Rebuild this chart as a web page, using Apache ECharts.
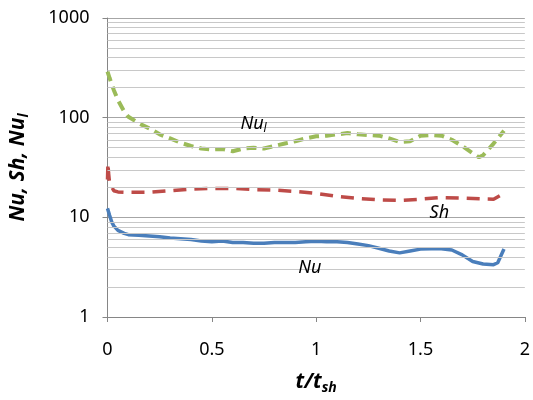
<!DOCTYPE html>
<html>
<head>
<meta charset="utf-8">
<script src="https://cdn.jsdelivr.net/npm/echarts@6/dist/echarts.min.js"></script>
<style>
  html, body { margin: 0; padding: 0; background: #fff; }
  #chart { width: 533px; height: 400px; }
</style>
</head>
<body>
<div id="chart"></div>
<script>
// Nu (blue, solid)
const nuData = [
  [0, 12.3], [0.01, 10.5], [0.02, 9], [0.03, 8.2], [0.05, 7.4], [0.08, 6.9], [0.1, 6.7],
  [0.15, 6.6], [0.2, 6.5], [0.25, 6.4], [0.3, 6.2], [0.35, 6.1], [0.4, 6.0], [0.45, 5.8],
  [0.5, 5.7], [0.55, 5.8], [0.6, 5.6], [0.65, 5.6], [0.7, 5.5], [0.75, 5.5], [0.8, 5.6],
  [0.85, 5.6], [0.9, 5.6], [0.95, 5.7], [1.0, 5.75], [1.05, 5.7], [1.1, 5.7], [1.15, 5.6],
  [1.2, 5.4], [1.25, 5.2], [1.3, 4.9], [1.35, 4.6], [1.4, 4.4], [1.45, 4.6], [1.5, 4.8],
  [1.55, 4.85], [1.6, 4.85], [1.65, 4.7], [1.7, 4.2], [1.75, 3.6], [1.8, 3.4], [1.85, 3.35],
  [1.87, 3.5], [1.9, 4.8]
];
// Sh (red, dashed)
const shData = [
  [0, 24], [0.002, 35], [0.005, 28], [0.01, 22], [0.03, 18.5], [0.05, 18], [0.1, 17.8],
  [0.2, 17.8], [0.3, 18.5], [0.4, 19.2], [0.5, 19.5], [0.6, 19.5], [0.7, 19], [0.8, 18.8],
  [0.9, 18.2], [1.0, 17.4], [1.1, 16.2], [1.2, 15.5], [1.3, 15], [1.4, 14.8], [1.5, 15.2],
  [1.6, 15.8], [1.7, 15.6], [1.8, 15.3], [1.85, 15.2], [1.88, 16.5], [1.9, 18]
];
// Nu_l (green, dashed)
const nulData = [
  [0, 290], [0.01, 250], [0.03, 190], [0.05, 150], [0.08, 115], [0.1, 102], [0.15, 88],
  [0.2, 78], [0.25, 68], [0.3, 62], [0.35, 56], [0.4, 52], [0.45, 49], [0.5, 48],
  [0.55, 48.5], [0.6, 46], [0.65, 49], [0.7, 50], [0.75, 49], [0.8, 52], [0.85, 55],
  [0.9, 58], [0.95, 62], [1.0, 65], [1.05, 66], [1.1, 68], [1.15, 70], [1.2, 68],
  [1.25, 67], [1.3, 66], [1.35, 62], [1.4, 57], [1.45, 58], [1.5, 66], [1.55, 67],
  [1.6, 66], [1.65, 60], [1.7, 52], [1.75, 44], [1.78, 40], [1.8, 42], [1.85, 55], [1.9, 74]
];
// minor log grid lines
const minorLines = [2, 3, 4, 5, 6, 7, 8, 9, 20, 30, 40, 50, 60, 70, 80, 90, 200, 300, 400, 500, 600, 700, 800, 900];
// where the series names sit (data units)
const nuLabelAt = [0.97, 3.1];
const shLabelAt = [1.59, 11];
const nulLabelAt = [0.70, 87];

const font = 'Noto Sans';
const chart = echarts.init(document.getElementById('chart'));

function nameMark(coord, text) {
  return {
    silent: true,
    symbol: 'circle',
    symbolSize: 1,
    itemStyle: { color: 'rgba(0,0,0,0)' },
    data: [{
      coord: coord,
      label: {
        show: true,
        position: 'inside',
        formatter: text,
        color: '#000',
        fontFamily: font,
        fontSize: 18,
        fontStyle: 'italic',
        rich: {
          a: { fontSize: 18, fontStyle: 'italic', fontFamily: font, color: '#000' },
          s: { fontSize: 12, fontStyle: 'italic', fontFamily: font, color: '#000', padding: [10, 0, 0, 0] }
        }
      }
    }]
  };
}

chart.setOption({
  animation: false,
  grid: { left: 107, right: 6, top: 18, bottom: 83 },
  xAxis: {
    type: 'value',
    min: 0, max: 2, interval: 0.5,
    name: '{a|t/t}{s|sh}',
    nameLocation: 'middle',
    nameGap: 52,
    nameTextStyle: {
      rich: {
        a: { fontSize: 21, fontWeight: 'bold', fontStyle: 'italic', fontFamily: font, color: '#000' },
        s: { fontSize: 14, fontWeight: 'bold', fontStyle: 'italic', fontFamily: font, color: '#000', padding: [12, 0, 0, 0] }
      }
    },
    axisLine: { show: true, lineStyle: { color: '#868686', width: 1 } },
    axisTick: { show: true, length: 5, lineStyle: { color: '#868686' } },
    axisLabel: { color: '#000', fontSize: 18, fontFamily: font, margin: 24,
      formatter: v => String(v) },
    splitLine: { show: false }
  },
  yAxis: {
    type: 'log',
    logBase: 10,
    min: 1, max: 1000,
    name: '{a|Nu, Sh, Nu}{s|l}',
    nameLocation: 'middle',
    nameGap: 76,
    nameTextStyle: {
      rich: {
        a: { fontSize: 21, fontWeight: 'bold', fontStyle: 'italic', fontFamily: font, color: '#000' },
        s: { fontSize: 14, fontWeight: 'bold', fontStyle: 'italic', fontFamily: font, color: '#000', padding: [12, 0, 0, 0] }
      }
    },
    axisLine: { show: true, lineStyle: { color: '#868686', width: 1 } },
    axisTick: { show: true, length: 5, lineStyle: { color: '#868686' } },
    axisLabel: { color: '#000', fontSize: 18, fontFamily: font, margin: 18,
      formatter: v => String(Math.round(v)) },
    splitLine: { show: true, lineStyle: { color: '#a6a6a6', width: 1 } }
  },
  series: [
    {
      type: 'line',
      data: [],
      silent: true,
      z: 1,
      markLine: {
        silent: true,
        symbol: 'none',
        label: { show: false },
        lineStyle: { color: '#c8c8c8', type: 'solid', width: 1 },
        data: minorLines.map(v => ({ yAxis: v }))
      }
    },
    {
      name: 'Nu',
      type: 'line',
      data: nuData,
      showSymbol: false,
      z: 3,
      lineStyle: { color: '#4a7ebb', width: 3.5 },
      markPoint: nameMark(nuLabelAt, '{a|Nu}')
    },
    {
      name: 'Sh',
      type: 'line',
      data: shData,
      showSymbol: false,
      z: 3,
      lineStyle: { color: '#be4b48', width: 3.5, type: [13, 8] },
      markPoint: nameMark(shLabelAt, '{a|Sh}')
    },
    {
      name: 'Nul',
      type: 'line',
      data: nulData,
      showSymbol: false,
      z: 3,
      lineStyle: { color: '#9bbb59', width: 4, type: [10, 6] },
      markPoint: nameMark(nulLabelAt, '{a|Nu}{s|l}')
    }
  ]
});
</script>
</body>
</html>
